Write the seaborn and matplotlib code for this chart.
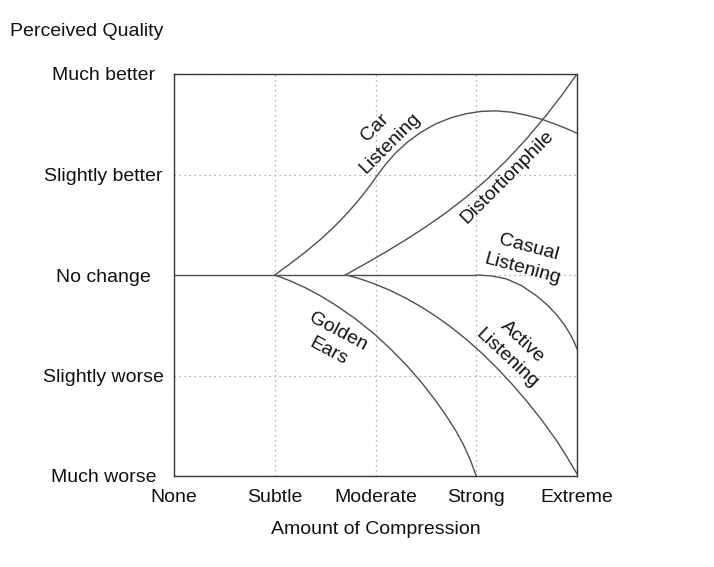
import matplotlib
matplotlib.use("Agg")
import matplotlib.pyplot as plt
import pandas as pd
import seaborn as sns

# ---- data ----
x_ticks = [0, 1, 2, 3, 4]
x_labels = ["None", "Subtle", "Moderate", "Strong", "Extreme"]
y_ticks = [-2, -1, 0, 1, 2]
y_labels = ["Much worse", "Slightly worse", "No change", "Slightly better", "Much better"]

base_x = [0.0, 1.0, 1.7, 3.0]
base_y = [0.0, 0.0, 0.0, 0.0]

car_x = [1.0, 1.15, 1.3, 1.45, 1.6, 1.72, 1.82, 1.9, 1.96, 2.02, 2.1, 2.2, 2.32,
         2.45, 2.6, 2.75, 2.9, 3.05, 3.2, 3.35, 3.5, 3.65, 3.8, 3.9, 4.0]
car_y = [0.0, 0.11, 0.225, 0.35, 0.49, 0.615, 0.73, 0.83, 0.91, 0.995, 1.1, 1.215, 1.325,
         1.42, 1.505, 1.565, 1.605, 1.628, 1.633, 1.62, 1.59, 1.55, 1.495, 1.455, 1.41]

dist_x = [1.7, 1.9, 2.1, 2.3, 2.5, 2.7, 2.9, 3.1, 3.3, 3.5, 3.7, 3.85, 4.0]
dist_y = [0.0, 0.112, 0.228, 0.35, 0.48, 0.62, 0.774, 0.946, 1.14, 1.356, 1.596, 1.79, 2.0]

casual_x = [3.0, 3.15, 3.3, 3.45, 3.6, 3.7, 3.8, 3.87, 3.93, 3.97, 4.0]
casual_y = [0.0, -0.009, -0.039, -0.106, -0.208, -0.293, -0.398, -0.489, -0.585, -0.663, -0.735]

golden_x = [1.0, 1.15, 1.3, 1.45, 1.6, 1.8, 2.0, 2.15, 2.3, 2.45, 2.6, 2.7,
            2.8, 2.87, 2.94, 3.0]
golden_y = [0.0, -0.057, -0.125, -0.205, -0.297, -0.435, -0.597, -0.737, -0.89, -1.06,
            -1.255, -1.397, -1.555, -1.683, -1.836, -2.0]

active_x = [1.71, 1.85, 2.0, 2.15, 2.3, 2.45, 2.6, 2.75, 2.9, 3.05, 3.2, 3.35,
            3.5, 3.65, 3.8, 3.9, 4.0]
active_y = [0.0, -0.039, -0.092, -0.155, -0.23, -0.315, -0.411, -0.519, -0.639, -0.773,
            -0.92, -1.08, -1.254, -1.443, -1.652, -1.81, -1.98]

curve_names = ["Baseline", "Car Listening", "Distortionphile", "Casual Listening",
               "Golden Ears", "Active Listening"]
curve_xs = [base_x, car_x, dist_x, casual_x, golden_x, active_x]
curve_ys = [base_y, car_y, dist_y, casual_y, golden_y, active_y]

# label texts and positions (data coords) with rotation
label_texts = ["Car\nListening", "Distortionphile", "Casual\nListening", "Golden\nEars", "Active\nListening"]
label_x = [2.07, 3.31, 3.49, 1.58, 3.38]
label_y = [1.39, 0.97, 0.17, -0.66, -0.75]
label_rot = [45, 45, -15, -28, -43]

rows = []
for name, xs, ys in zip(curve_names, curve_xs, curve_ys):
    for i, (xv, yv) in enumerate(zip(xs, ys)):
        rows.append({"curve": name, "order": i, "x": xv, "y": yv})
df = pd.DataFrame(rows)

sns.set_theme(style="white")
plt.rcParams["font.family"] = ["Liberation Sans", "DejaVu Sans"]

FS = 14.0
PX = 72 / 100  # points per pixel at dpi 100
fig = plt.figure(figsize=(7.14, 5.67), dpi=100)
ax = fig.add_axes([174 / 714, 1 - 476 / 567, 403 / 714, 402 / 567])

sns.lineplot(data=df, x="x", y="y", hue="curve", estimator=None, sort=False,
             palette=["#505050"] * len(curve_names), legend=False,
             linewidth=1.0, ax=ax, zorder=3)

ax.set_xlim(0, 4)
ax.set_ylim(-2, 2)
ax.set_xticks(x_ticks)
ax.set_xticklabels(x_labels)
ax.set_yticks(y_ticks)
ax.set_yticklabels(y_labels)
ax.grid(True, linestyle=(0, (1, 3)), color="#9a9a9a", linewidth=0.9)
ax.set_axisbelow(True)
ax.tick_params(axis="x", length=0, pad=9.0, labelsize=FS, labelcolor="#111111")
ax.tick_params(axis="y", length=0, pad=(174 - 103.4) * PX, labelsize=FS, labelcolor="#111111")
for lbl in ax.get_yticklabels():
    lbl.set_horizontalalignment("center")
for sp in ax.spines.values():
    sp.set_visible(True)
    sp.set_color("#333333")
    sp.set_linewidth(1.0)

ax.set_xlabel("Amount of Compression", fontsize=FS, color="#111111", labelpad=11)
ax.set_ylabel("")
fig.text(10 / 714, 1 - 31 / 567, "Perceived Quality", fontsize=FS, color="#111111",
         ha="left", va="center")

for t, lx, ly, r in zip(label_texts, label_x, label_y, label_rot):
    ax.text(lx, ly, t, fontsize=FS, color="#111111", ha="center", va="center",
            rotation=r, rotation_mode="anchor", multialignment="center",
            linespacing=1.4, zorder=4)

fig.savefig("out.png", dpi=100, facecolor="white")
